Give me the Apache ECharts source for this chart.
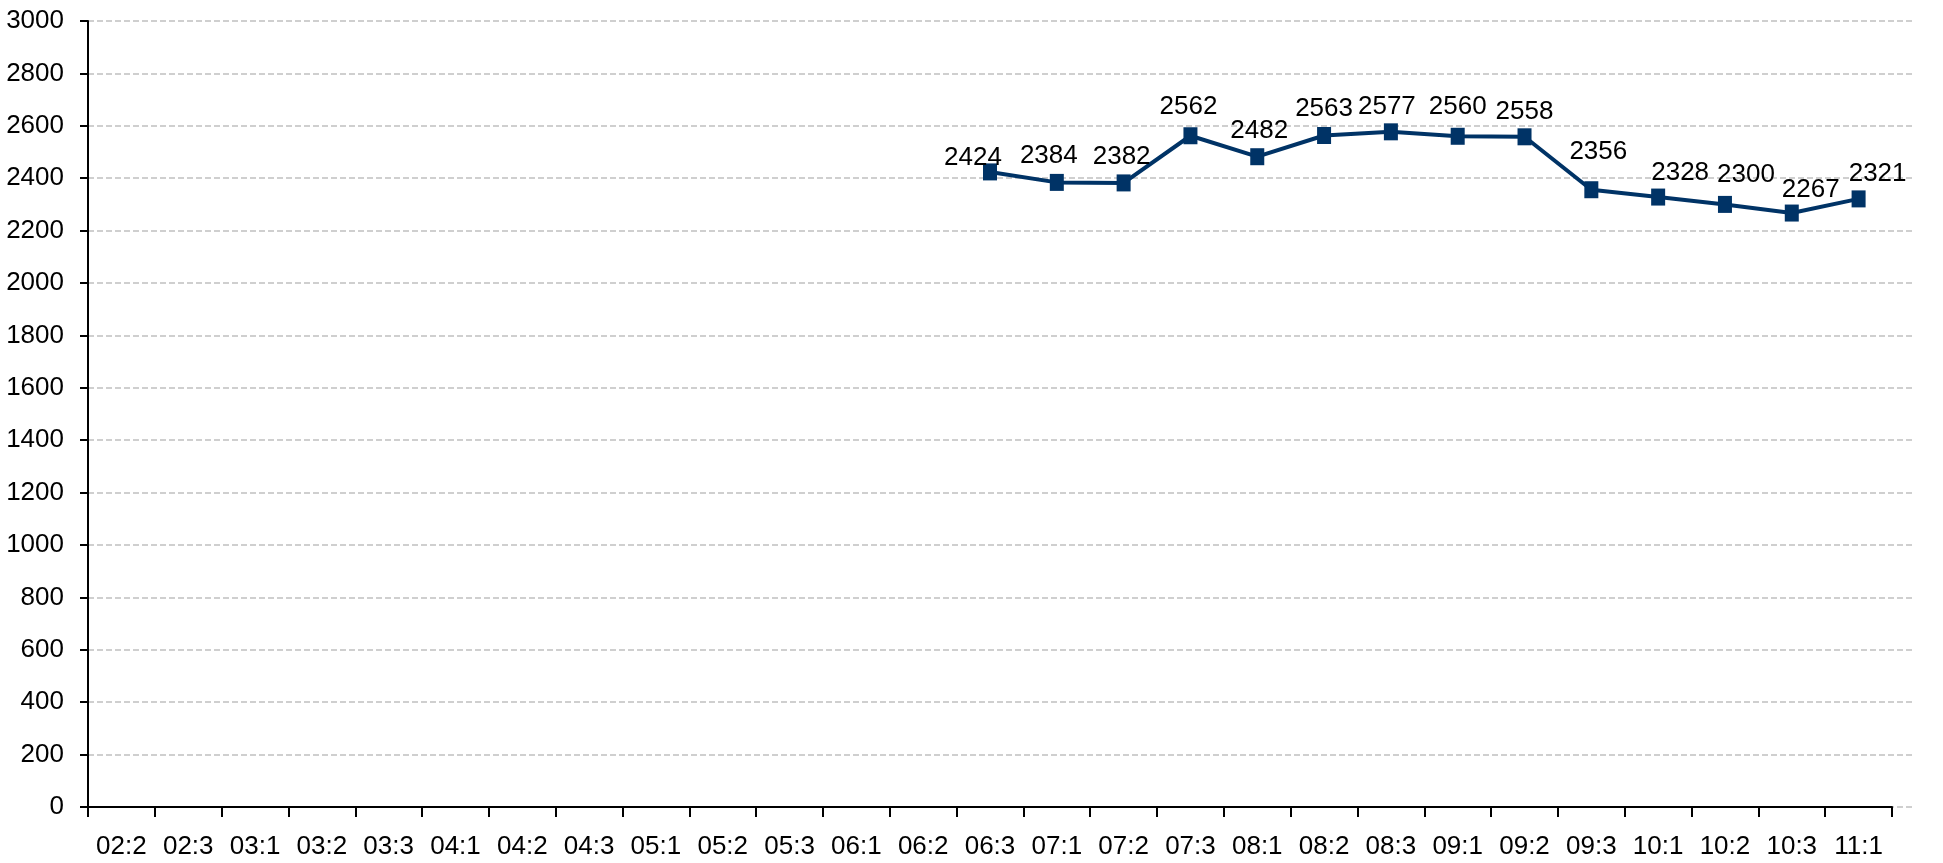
<!DOCTYPE html>
<html><head><meta charset="utf-8">
<script src="https://cdn.jsdelivr.net/npm/echarts@6/dist/echarts.min.js"></script>
<style>html,body{margin:0;padding:0;background:#fff}#c{width:1943px;height:863px}</style>
</head><body><div id="c"></div>
<script>
const categories = ['02:2','02:3','03:1','03:2','03:3','04:1','04:2','04:3','05:1','05:2','05:3','06:1','06:2','06:3','07:1','07:2','07:3','08:1','08:2','08:3','09:1','09:2','09:3','10:1','10:2','10:3','11:1'];
const values = [null,null,null,null,null,null,null,null,null,null,null,null,null,2424,2384,2382,2562,2482,2563,2577,2560,2558,2356,2328,2300,2267,2321];
const yTicks = {min:0, max:3000, interval:200};
// per-point label nudges [dx, dy] (layout only)
const labelNudge = {13:[-17,13],14:[-8,1],15:[-2,1],16:[-2,-1],17:[2,2],18:[0,1],19:[-4,3],20:[0,-2],21:[0,3],22:[7,-10],23:[22,3],24:[21,-2],25:[19,4],26:[19,2]};

const font = '"Liberation Sans", Arial, sans-serif';
const data = values.map((v,i)=>{
  if (v==null) return null;
  const n = labelNudge[i]||[0,0];
  return {value:v, label:{offset:n}};
});
const chart = echarts.init(document.getElementById('c'));
chart.setOption({
  animation:false,
  backgroundColor:'#fff',
  grid:[
    {left:88,right:31,top:21,bottom:56},
    {left:88,right:51,top:21,bottom:56}
  ],
  xAxis:[
    {gridIndex:0,type:'value',show:false,min:0,max:1},
    {gridIndex:1,type:'category',data:categories,boundaryGap:true,
     axisLine:{lineStyle:{color:'#000',width:2}},
     axisTick:{show:true,alignWithLabel:false,length:10,lineStyle:{color:'#000',width:2}},
     axisLabel:{color:'#000',fontFamily:font,fontSize:26,margin:27,interval:0},
     splitLine:{show:false}}
  ],
  yAxis:[
    {gridIndex:0,type:'value',min:yTicks.min,max:yTicks.max,interval:yTicks.interval,
     axisLine:{show:true,lineStyle:{color:'#000',width:2}},
     axisTick:{show:true,length:8,lineStyle:{color:'#000',width:2}},
     axisLabel:{color:'#000',fontFamily:font,fontSize:26,margin:24,formatter:v=>String(v)},
     splitLine:{show:true,lineStyle:{color:'#c0c0c0',type:[6,3],width:1.5}}},
    {gridIndex:1,type:'value',min:yTicks.min,max:yTicks.max,interval:yTicks.interval,show:false,splitLine:{show:false}}
  ],
  series:[{
    type:'line',xAxisIndex:1,yAxisIndex:1,data:data,
    symbol:'rect',symbolSize:[14,17],
    lineStyle:{color:'#003366',width:4},
    itemStyle:{color:'#003366'},
    label:{show:true,position:'top',distance:6,color:'#000',fontFamily:font,fontSize:26},
    connectNulls:false
  }]
});
</script></body></html>
